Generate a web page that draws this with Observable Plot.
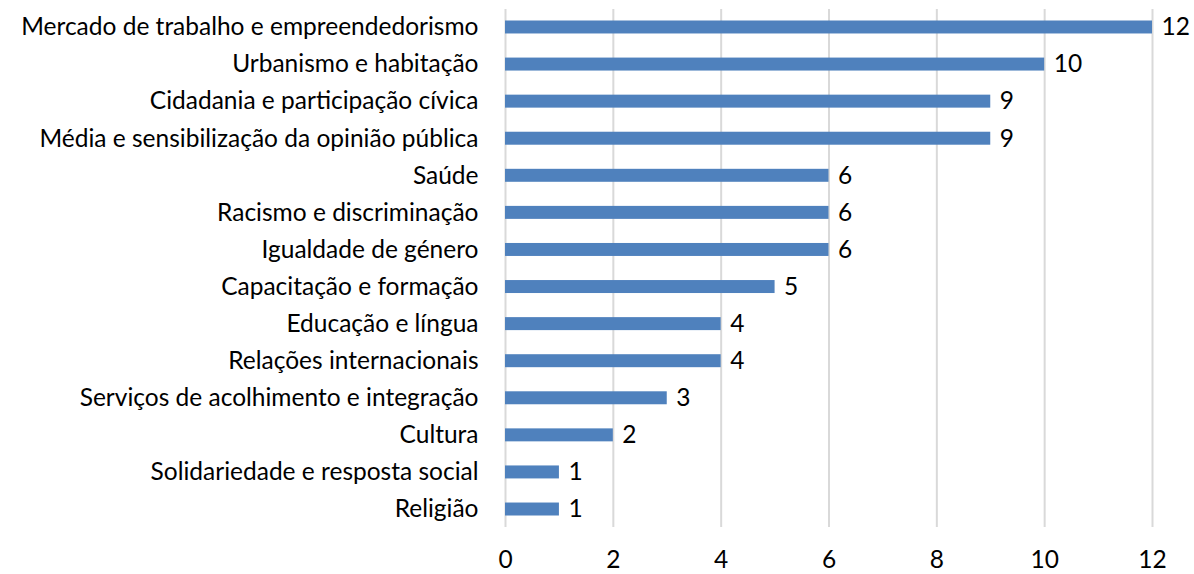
<!DOCTYPE html>
<html><head><meta charset="utf-8">
<script src="https://cdn.jsdelivr.net/npm/d3@7"></script>
<script src="https://cdn.jsdelivr.net/npm/@observablehq/plot@0.6"></script>
<style>
html,body{margin:0;padding:0;background:#fff;}
svg{font-family:Lato,"Open Sans",sans-serif;}
</style>
</head><body>
<div id="chart"></div>
<script>
const categories = [
  "Mercado de trabalho e empreendedorismo",
  "Urbanismo e habitação",
  "Cidadania e participação cívica",
  "Média e sensibilização da opinião pública",
  "Saúde",
  "Racismo e discriminação",
  "Igualdade de género",
  "Capacitação e formação",
  "Educação e língua",
  "Relações internacionais",
  "Serviços de acolhimento e integração",
  "Cultura",
  "Solidariedade e resposta social",
  "Religião"
];
const values = [12, 10, 9, 9, 6, 6, 6, 5, 4, 4, 3, 2, 1, 1];
const xTicks = [0, 2, 4, 6, 8, 10, 12];

const data = categories.map((c, i) => ({cat: c, v: values[i]}));

const FS = 24.5;
const chart = Plot.plot({
  width: 1194,
  height: 574,
  marginLeft: 505,
  marginRight: 42,
  marginTop: 9,
  marginBottom: 47,
  style: {fontSize: FS + "px", fontFamily: "Lato, 'Open Sans', sans-serif", color: "#000"},
  x: {domain: [0, 12], ticks: xTicks, label: null},
  y: {domain: categories, paddingInner: 0.65, paddingOuter: 0.31, round: false, label: null},
  marks: [
    Plot.ruleX(xTicks, {stroke: "#d9d9d9", strokeWidth: 2, strokeOpacity: 1}),
    Plot.barX(data, {x: "v", y: "cat", fill: "#4F81BD"}),
    Plot.text(data, {x: "v", y: "cat", text: d => String(d.v), textAnchor: "start", dx: 9, fontSize: FS, fill: "#000"}),
    Plot.axisX({ticks: xTicks, tickSize: 0, tickPadding: 23, fontSize: FS, label: null, fill: "#000"}),
    Plot.axisY({tickSize: 0, tickPadding: 27, fontSize: FS, label: null, fill: "#000"})
  ]
});
document.getElementById("chart").appendChild(chart);
</script>
</body></html>
